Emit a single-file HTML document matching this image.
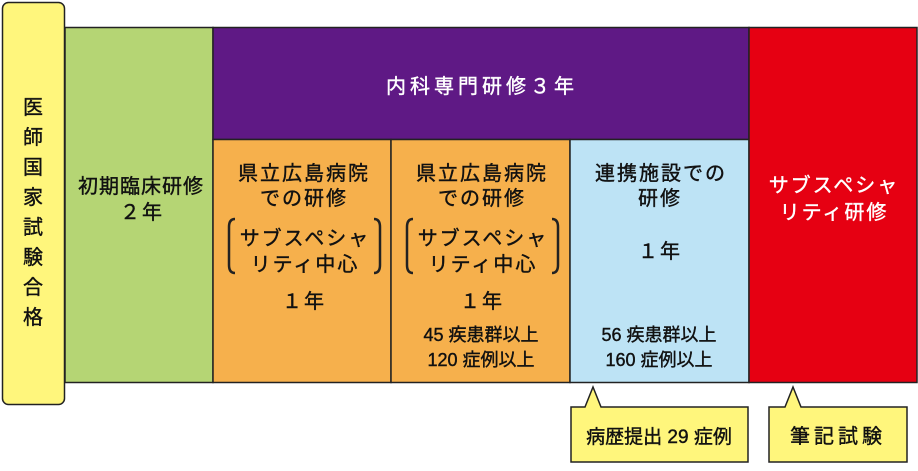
<!DOCTYPE html>
<html><head><meta charset="utf-8"><style>
body{margin:0;background:#fff}
svg text{font-family:"Liberation Sans","Noto Sans CJK JP",sans-serif;font-size:20px;letter-spacing:2px;fill:#111;stroke:#111;stroke-width:0.4;text-anchor:middle}
svg text.w{fill:#fff;stroke:#fff}
svg text.s{font-size:18px;letter-spacing:0}
</style></head><body>
<svg width="918" height="466" viewBox="0 0 918 466" xmlns="http://www.w3.org/2000/svg">
<g stroke="#222" stroke-width="1.5">
<rect x="2.5" y="2.5" width="62" height="402" rx="6" fill="#fff67c"/>
<rect x="65" y="27.5" width="148" height="355" fill="#b5d574"/>
<rect x="213" y="27.5" width="536" height="112" fill="#5f1985"/>
<rect x="213" y="139.5" width="178" height="243" fill="#f6b04c"/>
<rect x="391" y="139.5" width="179" height="243" fill="#f6b04c"/>
<rect x="570" y="139.5" width="179" height="243" fill="#bde3f5"/>
<rect x="749" y="27.5" width="168" height="355" fill="#e60012"/>
<path d="M571 407 H585 L593 387 L601 407 H748 V462 H571 Z" fill="#fff67c"/>
<path d="M769 407 H785 L793 387 L801 407 H907 V462 H769 Z" fill="#fff67c"/>
</g>
<g fill="none" stroke="#222" stroke-width="2.5">
<path d="M235 219 q-6 0 -6 8 v38 q0 8 6 8"/><path d="M374 219 q6 0 6 8 v38 q0 8 -6 8"/>
<path d="M413 219 q-6 0 -6 8 v38 q0 8 6 8"/><path d="M552 219 q6 0 6 8 v38 q0 8 -6 8"/>
</g>
<g style="font-size:22px">
<text x="34" y="114">医</text><text x="34" y="144">師</text><text x="34" y="174">国</text><text x="34" y="204">家</text><text x="34" y="234">試</text><text x="34" y="264">験</text><text x="34" y="294">合</text><text x="34" y="324">格</text>
</g>
<text x="141" y="193" style="letter-spacing:1px">初期臨床研修</text><text x="142" y="219">２年</text>
<text x="482" y="93" class="w" style="letter-spacing:4px">内科専門研修３年</text>
<text x="304" y="180">県立広島病院</text><text x="304" y="205">での研修</text>
<text x="305" y="245">サブスペシャ</text><text x="305" y="271">リティ中心</text><text x="304" y="308">１年</text>
<text x="482" y="180">県立広島病院</text><text x="482" y="205">での研修</text>
<text x="483" y="245">サブスペシャ</text><text x="483" y="271">リティ中心</text><text x="482" y="308">１年</text>
<text x="481" y="341" class="s">45 疾患群以上</text><text x="481" y="366" class="s">120 症例以上</text>
<text x="661" y="180">連携施設での</text><text x="660" y="205">研修</text><text x="660" y="258">１年</text>
<text x="659" y="341" class="s">56 疾患群以上</text><text x="659" y="366" class="s">160 症例以上</text>
<text x="834" y="192" class="w">サブスペシャ</text><text x="834" y="219" class="w">リティ研修</text>
<text x="659" y="443" class="s" style="font-size:19px">病歴提出 29 症例</text><text x="838" y="443" style="letter-spacing:4px">筆記試験</text>
</svg>
</body></html>
